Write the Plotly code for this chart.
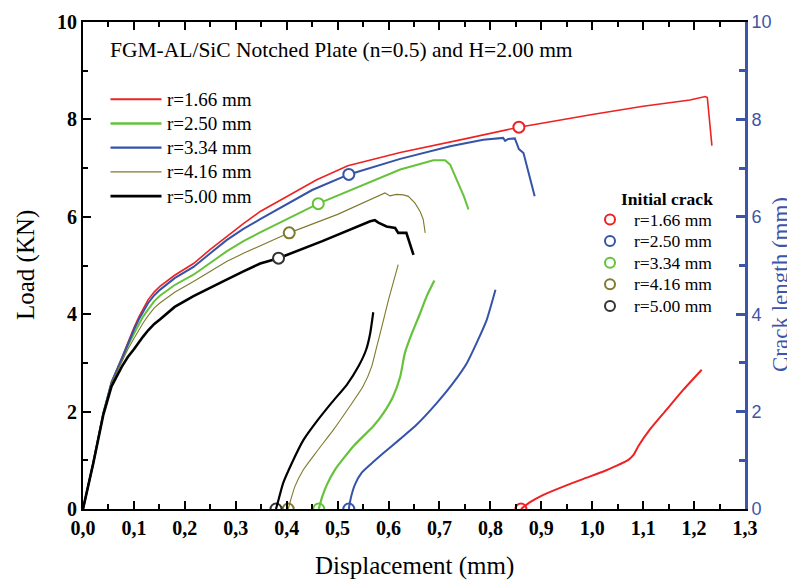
import plotly.graph_objects as go

# ---- data ----
names = ["r=1.66 mm", "r=2.50 mm", "r=3.34 mm", "r=4.16 mm", "r=5.00 mm"]

# load-displacement curves (legend order: red, green, blue, olive, black)
red_x = [0, 0.02, 0.04, 0.056, 0.076, 0.088, 0.1, 0.11, 0.118, 0.128, 0.14, 0.151, 0.18, 0.217, 0.25, 0.282, 0.315, 0.348,
         0.459, 0.52, 0.623, 0.75, 0.856, 1.0, 1.1, 1.192, 1.222, 1.226, 1.235]
red_y = [0, 0.94, 1.97, 2.6, 3.1, 3.42, 3.72, 3.95, 4.12, 4.3, 4.46, 4.57, 4.8, 5.04, 5.33, 5.6, 5.86, 6.11,
         6.76, 7.05, 7.32, 7.6, 7.84, 8.1, 8.27, 8.4, 8.47, 8.45, 7.46]

green_x = [0, 0.02, 0.04, 0.056, 0.076, 0.088, 0.1, 0.11, 0.118, 0.128, 0.14, 0.151, 0.18, 0.217, 0.25, 0.282, 0.315, 0.348,
           0.462, 0.577, 0.623, 0.688, 0.711, 0.721, 0.731, 0.744, 0.748, 0.757]
green_y = [0, 0.94, 1.97, 2.6, 3.06, 3.35, 3.6, 3.8, 3.95, 4.1, 4.27, 4.38, 4.6, 4.81, 5.06, 5.29, 5.5, 5.68,
           6.27, 6.76, 6.97, 7.16, 7.16, 7.07, 6.83, 6.52, 6.42, 6.15]

blue_x = [0, 0.02, 0.04, 0.056, 0.076, 0.088, 0.1, 0.11, 0.118, 0.128, 0.14, 0.151, 0.18, 0.217, 0.25, 0.282, 0.315, 0.348,
          0.45, 0.522, 0.623, 0.721, 0.786, 0.825, 0.829, 0.835, 0.848, 0.851, 0.856, 0.865, 0.874, 0.887]
blue_y = [0, 0.94, 1.97, 2.6, 3.08, 3.4, 3.68, 3.9, 4.06, 4.23, 4.39, 4.5, 4.74, 4.97, 5.25, 5.52, 5.75, 5.95,
          6.55, 6.87, 7.19, 7.45, 7.58, 7.62, 7.56, 7.6, 7.61, 7.51, 7.39, 7.31, 6.93, 6.42]

olive_x = [0, 0.02, 0.04, 0.056, 0.076, 0.088, 0.1, 0.11, 0.118, 0.128, 0.14, 0.151, 0.18, 0.217, 0.25, 0.282, 0.315, 0.348,
           0.405, 0.5, 0.583, 0.593, 0.603, 0.615, 0.629, 0.639, 0.652, 0.662, 0.668, 0.672]
olive_y = [0, 0.94, 1.96, 2.58, 3.02, 3.28, 3.5, 3.68, 3.82, 3.97, 4.13, 4.23, 4.45, 4.67, 4.88, 5.08, 5.25, 5.41,
           5.67, 6.05, 6.45, 6.49, 6.43, 6.46, 6.45, 6.42, 6.28, 6.11, 5.95, 5.67]

black_x = [0, 0.02, 0.04, 0.056, 0.076, 0.088, 0.1, 0.11, 0.118, 0.128, 0.14, 0.151, 0.18, 0.217, 0.25, 0.282, 0.315, 0.348,
           0.384, 0.47, 0.564, 0.573, 0.58, 0.587, 0.596, 0.613, 0.619, 0.635, 0.64, 0.649]
black_y = [0, 0.93, 1.94, 2.52, 2.92, 3.12, 3.28, 3.43, 3.54, 3.67, 3.8, 3.89, 4.15, 4.37, 4.55, 4.71, 4.88, 5.04,
           5.15, 5.5, 5.91, 5.93, 5.88, 5.84, 5.8, 5.77, 5.67, 5.67, 5.5, 5.22]

# crack length curves (right axis)
red_cx = [0.860, 0.878, 0.904, 0.943, 0.983, 1.022, 1.048, 1.071, 1.081, 1.091, 1.113, 1.146, 1.179, 1.215]
red_cy = [0.0, 0.14, 0.29, 0.46, 0.62, 0.77, 0.89, 1.01, 1.11, 1.30, 1.63, 2.04, 2.45, 2.86]

blue_cx = [0.522, 0.526, 0.534, 0.547, 0.564, 0.590, 0.623, 0.655, 0.695, 0.727, 0.754, 0.773, 0.793, 0.810]
blue_cy = [0.0, 0.23, 0.50, 0.74, 0.91, 1.15, 1.44, 1.73, 2.18, 2.59, 3.00, 3.41, 3.89, 4.50]

green_cx = [0.463, 0.469, 0.479, 0.495, 0.531, 0.570, 0.590, 0.609, 0.623, 0.632, 0.646, 0.662, 0.675, 0.690]
green_cy = [0.0, 0.23, 0.50, 0.81, 1.29, 1.70, 1.97, 2.31, 2.72, 3.20, 3.61, 4.02, 4.37, 4.69]

olive_cx = [0.403, 0.408, 0.416, 0.433, 0.459, 0.492, 0.524, 0.550, 0.567, 0.577, 0.587, 0.600, 0.619]
olive_cy = [0.0, 0.19, 0.46, 0.81, 1.18, 1.63, 2.11, 2.52, 2.93, 3.34, 3.75, 4.30, 5.02]

black_cx = [0.379, 0.384, 0.393, 0.410, 0.433, 0.459, 0.488, 0.518, 0.541, 0.556, 0.564, 0.570]
black_cy = [0.0, 0.19, 0.53, 0.94, 1.42, 1.80, 2.18, 2.55, 2.93, 3.27, 3.61, 4.04]

# initial crack markers (order: red, blue, green, olive, black)
init_names = ["r=1.66 mm", "r=2.50 mm", "r=3.34 mm", "r=4.16 mm", "r=5.00 mm"]
init_load_x = [0.856, 0.522, 0.462, 0.405, 0.384]
init_load_y = [7.84, 6.87, 6.27, 5.67, 5.15]
init_crack_x = [0.86, 0.522, 0.463, 0.403, 0.379]
init_crack_y = [0, 0, 0, 0, 0]

RED = "#EE2222"
GREEN = "#66C23A"
BLUE = "#3553A8"
OLIVE = "#7E7A2E"
BLACK = "#000000"
AXBLUE = "#3D55A8"
SERIF = "Liberation Serif"

# page offset of the plot div (browser default body margin)
OFF = 8
W, H = 795 - OFF, 582 - OFF
# plot-area geometry in page pixels
L, R, T, B = 83, 745, 22, 509
def px(x):
    return (x - L) / (R - L)
def py(y):
    return (B - y) / (B - T)

fig = go.Figure()

line_colors = [RED, GREEN, BLUE, OLIVE, BLACK]
line_widths = [1.6, 2.0, 2.0, 1.1, 2.6]
load_sets = [(red_x, red_y), (green_x, green_y), (blue_x, blue_y), (olive_x, olive_y), (black_x, black_y)]
for (xs, ys), n, c, w in zip(load_sets, names, line_colors, line_widths):
    fig.add_trace(go.Scatter(x=xs, y=ys, mode="lines", name=n, line=dict(color=c, width=w), showlegend=False))

crack_sets = [(red_cx, red_cy, RED, 2.0), (blue_cx, blue_cy, BLUE, 2.0), (green_cx, green_cy, GREEN, 2.2),
              (olive_cx, olive_cy, OLIVE, 1.1), (black_cx, black_cy, BLACK, 2.2)]
for xs, ys, c, w in crack_sets:
    fig.add_trace(go.Scatter(x=xs, y=ys, mode="lines", showlegend=False, yaxis="y2",
                             line=dict(color=c, width=w, shape="spline", smoothing=0.5)))

init_colors = [RED, BLUE, GREEN, OLIVE, "#333333"]
for i, n in enumerate(init_names):
    fig.add_trace(go.Scatter(x=[init_load_x[i], init_crack_x[i]], y=[init_load_y[i], init_crack_y[i]],
                             mode="markers", name=n, showlegend=False,
                             marker=dict(symbol="circle", size=11, color="white",
                                         line=dict(color=init_colors[i], width=2))))

annotations = []
shapes = []

# chart caption inside plot
annotations.append(dict(text="FGM-AL/SiC Notched Plate (n=0.5) and H=2.00 mm", xref="paper", yref="paper",
                        x=px(108), y=py(50), xanchor="left", yanchor="middle", showarrow=False,
                        font=dict(family=SERIF, size=21.5, color="black")))

# line legend (manual)
leg_y0, leg_dy = 99.3, 24.2
for i, (n, c, w) in enumerate(zip(names, line_colors, line_widths)):
    yy = py(leg_y0 + i * leg_dy)
    shapes.append(dict(type="line", xref="paper", yref="paper", x0=px(110.5), x1=px(161.5), y0=yy, y1=yy,
                       line=dict(color=c, width=w + 0.3)))
    annotations.append(dict(text=n, xref="paper", yref="paper", x=px(165), y=yy, xanchor="left",
                            yanchor="middle", showarrow=False, font=dict(family=SERIF, size=19, color="black")))

# initial crack legend (manual)
annotations.append(dict(text="<b>Initial crack</b>", xref="paper", yref="paper", x=px(667), y=py(198.5),
                        xanchor="center", yanchor="middle", showarrow=False,
                        font=dict(family=SERIF, size=17.5, color="black")))
for i, (n, c) in enumerate(zip(init_names, init_colors)):
    yc = 219.5 + i * 21.6
    shapes.append(dict(type="circle", xref="paper", yref="paper", xsizemode="pixel", ysizemode="pixel",
                       xanchor=px(610), yanchor=py(yc), x0=-5, x1=5, y0=-5, y1=5,
                       line=dict(color=c, width=2), fillcolor="white"))
    annotations.append(dict(text=n, xref="paper", yref="paper", x=px(632), y=py(yc), xanchor="left",
                            yanchor="middle", showarrow=False, font=dict(family=SERIF, size=17.5, color="black")))

# axis titles
annotations.append(dict(text="Displacement (mm)", xref="paper", yref="paper", x=px(414), y=py(566),
                        xanchor="center", yanchor="middle", showarrow=False,
                        font=dict(family=SERIF, size=25, color="black")))
annotations.append(dict(text="Load (KN)", xref="paper", yref="paper", x=px(26), y=py(265), textangle=-90,
                        xanchor="center", yanchor="middle", showarrow=False,
                        font=dict(family=SERIF, size=25, color="black")))
annotations.append(dict(text="Crack length (mm)", xref="paper", yref="paper", x=px(780), y=py(285), textangle=-90,
                        xanchor="center", yanchor="middle", showarrow=False,
                        font=dict(family=SERIF, size=23, color=AXBLUE)))

fig.update_layout(
    width=W, height=H,
    margin=dict(l=L - OFF, r=W - (R - OFF), t=T - OFF, b=H - (B - OFF), autoexpand=False),
    plot_bgcolor="white", paper_bgcolor="white",
    separators=",.",
    showlegend=False,
    annotations=annotations,
    shapes=shapes,
    xaxis=dict(range=[0, 1.3], dtick=0.1, tickformat=".1f", ticks="inside", ticklen=8, tickwidth=1.5,
               tickcolor="black", showline=True, linecolor="black", linewidth=2, mirror="ticks",
               showgrid=False, zeroline=False, automargin=False,
               minor=dict(dtick=0.05, ticks="inside", ticklen=5, tickwidth=1.5, tickcolor="black"),
               tickfont=dict(family=SERIF, size=20, color="black", weight="bold")),
    yaxis=dict(range=[0, 10], dtick=2, ticks="inside", ticklen=8, tickwidth=1.5, tickcolor="black",
               showline=True, linecolor="black", linewidth=2, showgrid=False, zeroline=False, automargin=False,
               minor=dict(dtick=1, ticks="inside", ticklen=5, tickwidth=1.5, tickcolor="black"),
               tickfont=dict(family=SERIF, size=20, color="black", weight="bold")),
    yaxis2=dict(range=[0, 10], dtick=2, overlaying="y", side="right", ticks="inside", ticklen=9, tickwidth=2.5,
                tickcolor=AXBLUE, showline=True, linecolor=AXBLUE, linewidth=3, showgrid=False, zeroline=False,
                automargin=False,
                minor=dict(dtick=1, ticks="inside", ticklen=6, tickwidth=2.5, tickcolor=AXBLUE),
                tickfont=dict(family="Liberation Sans", size=18, color=AXBLUE)),
)

fig.write_html("out.html")
